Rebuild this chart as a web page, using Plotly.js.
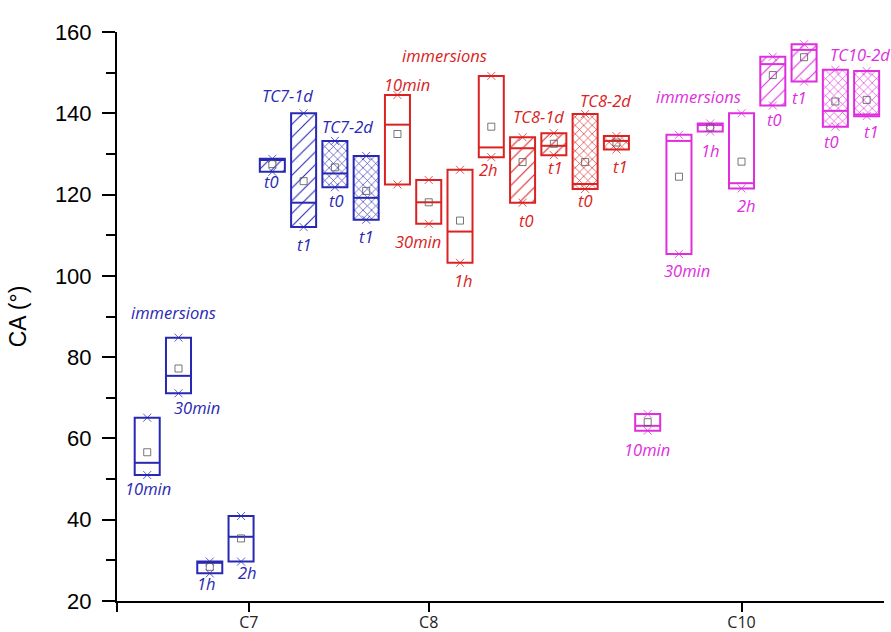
<!DOCTYPE html>
<html>
<head>
<meta charset="utf-8">
<script src="https://cdn.plot.ly/plotly-3.0.1.min.js"></script>
<style>html,body{margin:0;padding:0;background:#fff;}#chart{width:891px;height:632px;}</style>
</head>
<body>
<div id="chart"></div>
<script>
// ---- data ----
const groups = ['C7', 'C8', 'C10'];
const conditions = ['10min', '30min', '1h', '2h', '1d t0', '1d t1', '2d t0', '2d t1'];
const patterns = ['', '', '', '', '/', '/', 'x', 'x'];

// box bottom / top (min / max, marked with crosses), median line, mean square
const c7Low  = [51.0, 71.1, 26.8, 29.7, 125.6, 112.0, 121.8, 113.8];
const c7High = [65.1, 84.8, 29.7, 40.9, 128.8, 140.0, 133.2, 129.5];
const c7Med  = [54.0, 75.4, 29.4, 35.8, 128.5, 118.0, 125.2, 119.2];
const c7Mean = [56.6, 77.2, 28.4, 35.4, 127.5, 123.3, 126.7, 120.9];

const c8Low  = [122.5, 112.8, 103.2, 129.2, 118.0, 129.7, 121.4, 131.1];
const c8High = [144.5, 123.6, 126.1, 149.2, 134.1, 135.1, 139.8, 134.4];
const c8Med  = [137.2, 118.1, 110.9, 131.6, 131.4, 132.0, 122.6, 133.2];
const c8Mean = [134.9, 118.1, 113.6, 136.7, 128.0, 132.5, 128.0, 132.8];

const c10Low  = [61.9, 105.4, 135.5, 121.5, 141.9, 147.8, 136.7, 139.3];
const c10High = [66.0, 134.7, 137.5, 140.0, 153.9, 157.0, 150.7, 150.4];
const c10Med  = [63.1, 133.2, 137.1, 122.8, 152.1, 155.6, 140.6, 139.7];
const c10Mean = [64.0, 124.4, 136.5, 128.1, 149.4, 153.8, 142.9, 143.3];

const xTickVals = [0.034, 4.25, 10, 20];
const xTickText = ['', 'C7', 'C8', 'C10'];

// ---- styling ----
const colors = {C7: '#2828B4', C8: '#DA2222', C10: '#DE2EDE'};
const seriesData = {
  C7:  {low: c7Low,  high: c7High,  med: c7Med,  mean: c7Mean},
  C8:  {low: c8Low,  high: c8High,  med: c8Med,  mean: c8Mean},
  C10: {low: c10Low, high: c10High, med: c10Med, mean: c10Mean}
};
const BOXW = 0.8;

const traces = [];
groups.forEach((g, gi) => {
  const d = seriesData[g];
  const col = colors[g];
  const xs = conditions.map((c, i) => gi * conditions.length + i + 1);
  // boxes
  traces.push({
    type: 'bar', x: xs, base: d.low, y: d.high.map((h, i) => h - d.low[i]),
    width: BOXW, showlegend: false, hoverinfo: 'skip',
    marker: {
      color: 'rgba(255,255,255,0)',
      line: {color: col, width: 2},
      pattern: {shape: patterns, fgcolor: col, bgcolor: 'rgba(255,255,255,0)',
                size: patterns.map(p => p === 'x' ? 6 : 9),
                solidity: patterns.map(p => p === 'x' ? 0.2 : 0.12), fillmode: 'replace'}
    }
  });
  // median lines
  const mx = [], my = [];
  xs.forEach((x, i) => { mx.push(x - BOXW / 2, x + BOXW / 2, null); my.push(d.med[i], d.med[i], null); });
  traces.push({type: 'scatter', mode: 'lines', x: mx, y: my, line: {color: col, width: 2},
    showlegend: false, hoverinfo: 'skip', cliponaxis: false});
  // min / max crosses
  traces.push({type: 'scatter', mode: 'markers', x: xs.concat(xs), y: d.low.concat(d.high),
    marker: {symbol: 'x-thin-open', size: 8, color: col, opacity: 0.75, line: {width: 1, color: col}},
    showlegend: false, hoverinfo: 'skip', cliponaxis: false});
  // means
  traces.push({type: 'scatter', mode: 'markers', x: xs, y: d.mean,
    marker: {symbol: 'square-open', size: 7, color: '#555', opacity: 0.8, line: {width: 1, color: col}},
    showlegend: false, hoverinfo: 'skip', cliponaxis: false});
});

// ---- text labels (layout annotations) ----
const labelList = [
  ['C7', 'immersions', 1.83, 90.9], ['C7', '10min', 1.03, 47.6], ['C7', '30min', 2.59, 67.7],
  ['C7', '1h', 2.91, 24.4], ['C7', '2h', 4.22, 26.9], ['C7', 'TC7-1d', 5.47, 144.5],
  ['C7', 't0', 4.98, 123.2], ['C7', 't1', 6.04, 107.8], ['C7', 'TC7-2d', 7.39, 136.7],
  ['C7', 't0', 7.04, 118.5], ['C7', 't1', 8.0, 109.6],
  ['C8', 'immersions', 10.49, 154.1], ['C8', '10min', 9.31, 147.0], ['C8', '30min', 9.66, 108.4],
  ['C8', '1h', 11.1, 98.8], ['C8', '2h', 11.9, 126.1], ['C8', 'TC8-1d', 13.5, 139.3],
  ['C8', 't0', 13.14, 113.7], ['C8', 't1', 14.04, 126.6], ['C8', 'TC8-2d', 15.64, 143.1],
  ['C8', 't0', 15.0, 118.5], ['C8', 't1', 16.14, 126.9],
  ['C10', 'immersions', 18.64, 144.1], ['C10', '10min', 16.98, 57.2], ['C10', '30min', 18.26, 101.3],
  ['C10', '1h', 19.0, 130.8], ['C10', '2h', 20.17, 117.4], ['C10', 'TC10-1d', 21.32, 160.5],
  ['C10', 't0', 21.04, 138.4], ['C10', 't1', 21.84, 143.9], ['C10', 'TC10-2d', 23.78, 154.4],
  ['C10', 't0', 22.89, 133.0], ['C10', 't1', 24.16, 135.5]
];
const annotations = labelList.map(([g, t, x, y]) => ({
  x: x, y: y, xref: 'x', yref: 'y', text: t, showarrow: false,
  font: {family: 'Open Sans, sans-serif', size: 16.5, color: colors[g], style: 'italic'}
}));

const layout = {
  width: 891, height: 632,
  margin: {l: 117, r: 7, t: 32, b: 31},
  paper_bgcolor: '#fff', plot_bgcolor: '#fff',
  barmode: 'overlay', showlegend: false,
  annotations: annotations,
  xaxis: {
    range: [0.034, 24.555], showgrid: false, zeroline: false,
    showline: true, linecolor: '#000', linewidth: 2,
    tickmode: 'array', tickvals: xTickVals, ticktext: xTickText,
    ticks: 'outside', ticklen: 9, tickwidth: 2, tickcolor: '#000',
    ticklabelstandoff: -3,
    tickfont: {family: 'Open Sans, sans-serif', size: 16, color: '#222'}
  },
  yaxis: {
    range: [20, 160], showgrid: false, zeroline: false,
    showline: true, linecolor: '#000', linewidth: 2,
    tickmode: 'linear', tick0: 20, dtick: 20,
    ticks: 'outside', ticklen: 13, tickwidth: 2, tickcolor: '#000',
    minor: {dtick: 10, ticks: 'outside', ticklen: 9, tickwidth: 2, tickcolor: '#000'},
    ticklabelstandoff: 6,
    tickfont: {family: 'Liberation Sans, Arial, sans-serif', size: 22, color: '#000'},
    title: {text: 'CA (°)', font: {family: 'Liberation Sans, Arial, sans-serif', size: 23, color: '#000'}, standoff: 22}
  }
};

Plotly.newPlot('chart', traces, layout, {displayModeBar: false, staticPlot: true});
</script>
</body>
</html>
